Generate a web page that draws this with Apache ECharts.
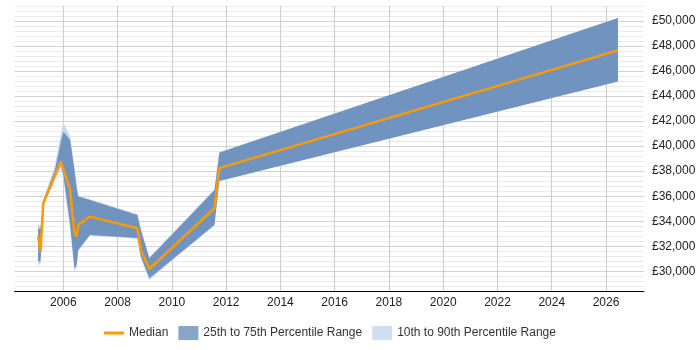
<!DOCTYPE html>
<html>
<head>
<meta charset="utf-8">
<script src="https://cdn.jsdelivr.net/npm/echarts@6/dist/echarts.min.js"></script>
<style>
  html, body { margin: 0; padding: 0; background: #fff; }
  #chart { width: 700px; height: 350px; }
</style>
</head>
<body>
<div id="chart"></div>
<script>
// years (decimal) of each data point
const years = [2005.07, 2005.16, 2005.26, 2005.69, 2005.90, 2006.00, 2006.25, 2006.41, 2006.49, 2006.55,
  2006.98, 2008.73, 2008.85, 2009.17, 2011.57, 2011.75, 2026.44];
const p10 = [30500, 30580, 35220, 37300, 38340, 37460, 33460, 29950, 30340, 31620,
  32850, 32600, 31060, 29300, 33700, 37220, 45170];
const p25 = [30770, 30820, 35300, 37460, 38500, 37700, 33700, 30220, 30500, 31700,
  32900, 32660, 31220, 29440, 33700, 37220, 45170];
const median = [32770, 31570, 35440, 37680, 38770, 38180, 36500, 33040, 32770, 33700,
  34370, 33440, 31700, 30180, 35040, 38240, 47650];
const p75 = [33440, 33380, 35620, 38100, 40260, 41170, 40500, 38100, 36740, 35970,
  35700, 34500, 33340, 31040, 36500, 39490, 50240];
const p90 = [33780, 33620, 35700, 38500, 40900, 41900, 40800, 38300, 36900, 36050,
  35750, 34550, 33540, 31140, 36500, 39490, 50240];

const xTickYears = [2006, 2008, 2010, 2012, 2014, 2016, 2018, 2020, 2022, 2024, 2026];

const NAME_MED = 'Median';
const NAME_IQR = '25th to 75th Percentile Range';
const NAME_OUT = '10th to 90th Percentile Range';

const COL_MED = '#ff9900';
const COL_IQR = '#7094bf';
const COL_OUT = '#c9d9ec';

// every 5th horizontal line (multiples of 2000) is the darker major line
const yLineColors = ['#ebebeb', '#ebebeb', '#ebebeb', '#ebebeb', '#d2d2d2'];
// only the even years get a vertical line
const xLineColors = [];
for (let i = 0; i < 10; i++) xLineColors.push(i === 9 ? '#cccccc' : 'rgba(0,0,0,0)');

// band between two lists, drawn as one polygon through the axes
function bandSeries(name, lo, hi, color, z) {
  return {
    name: name,
    type: 'custom',
    silent: true,
    clip: true,
    z: z,
    itemStyle: { color: color },
    encode: { x: 0, y: [1, 2] },
    data: years.map((y, i) => [y, lo[i], hi[i]]),
    renderItem: function (params, api) {
      if (params.dataIndex !== 0) return null;
      const top = years.map((y, i) => api.coord([y, hi[i]]));
      const bottom = years.map((y, i) => api.coord([y, lo[i]])).reverse();
      return {
        type: 'polygon',
        shape: { points: top.concat(bottom) },
        style: { fill: color, stroke: null }
      };
    }
  };
}

const chart = echarts.init(document.getElementById('chart'), null, { renderer: 'canvas' });

const option = {
  animation: false,
  textStyle: { fontFamily: 'Arial, "Liberation Sans", sans-serif' },
  grid: { left: 14.5, right: 56, top: 6, bottom: 58.7, containLabel: false },
  legend: {
    left: 104,
    top: 326,
    padding: 0,
    itemWidth: 20,
    itemHeight: 14,
    itemGap: 10,
    textStyle: { fontSize: 12, color: '#333' },
    data: [
      { name: NAME_MED, icon: 'path://M0,0 H20 V3 H0 Z', itemStyle: { color: COL_MED } },
      { name: NAME_IQR, icon: 'rect', itemStyle: { color: '#88a6c9' } },
      { name: NAME_OUT, icon: 'rect', itemStyle: { color: '#cfdef0' } }
    ]
  },
  xAxis: {
    type: 'value',
    min: 2004.2,
    max: 2027.4,
    interval: 0.2,
    axisLine: { show: true, onZero: false, lineStyle: { color: '#000', width: 1 } },
    axisTick: { show: false },
    axisLabel: {
      margin: 5,
      fontSize: 12,
      color: '#222',
      formatter: function (v) {
        const r = Math.round(v);
        return (Math.abs(v - r) < 1e-6 && xTickYears.indexOf(r) >= 0) ? String(r) : '';
      }
    },
    splitLine: { show: true, lineStyle: { color: xLineColors, width: 1 } }
  },
  yAxis: {
    type: 'value',
    position: 'right',
    min: 28400,
    max: 51200,
    interval: 400,
    axisLine: { show: false },
    axisTick: { show: false },
    axisLabel: {
      margin: 8,
      fontSize: 12,
      color: '#222',
      formatter: function (v) {
        if (Math.round(v) % 2000 !== 0) return '';
        return '£' + Math.round(v).toLocaleString('en-GB');
      }
    },
    splitLine: { show: true, lineStyle: { color: yLineColors, width: 1 } }
  },
  series: [
    bandSeries(NAME_OUT, p10, p90, COL_OUT, 1),
    bandSeries(NAME_IQR, p25, p75, COL_IQR, 2),
    {
      name: NAME_MED,
      type: 'line',
      symbol: 'none',
      silent: true,
      data: years.map((y, i) => [y, median[i]]),
      itemStyle: { color: COL_MED },
      lineStyle: { color: COL_MED, width: 2.5 },
      z: 5
    }
  ]
};

chart.setOption(option);
</script>
</body>
</html>
